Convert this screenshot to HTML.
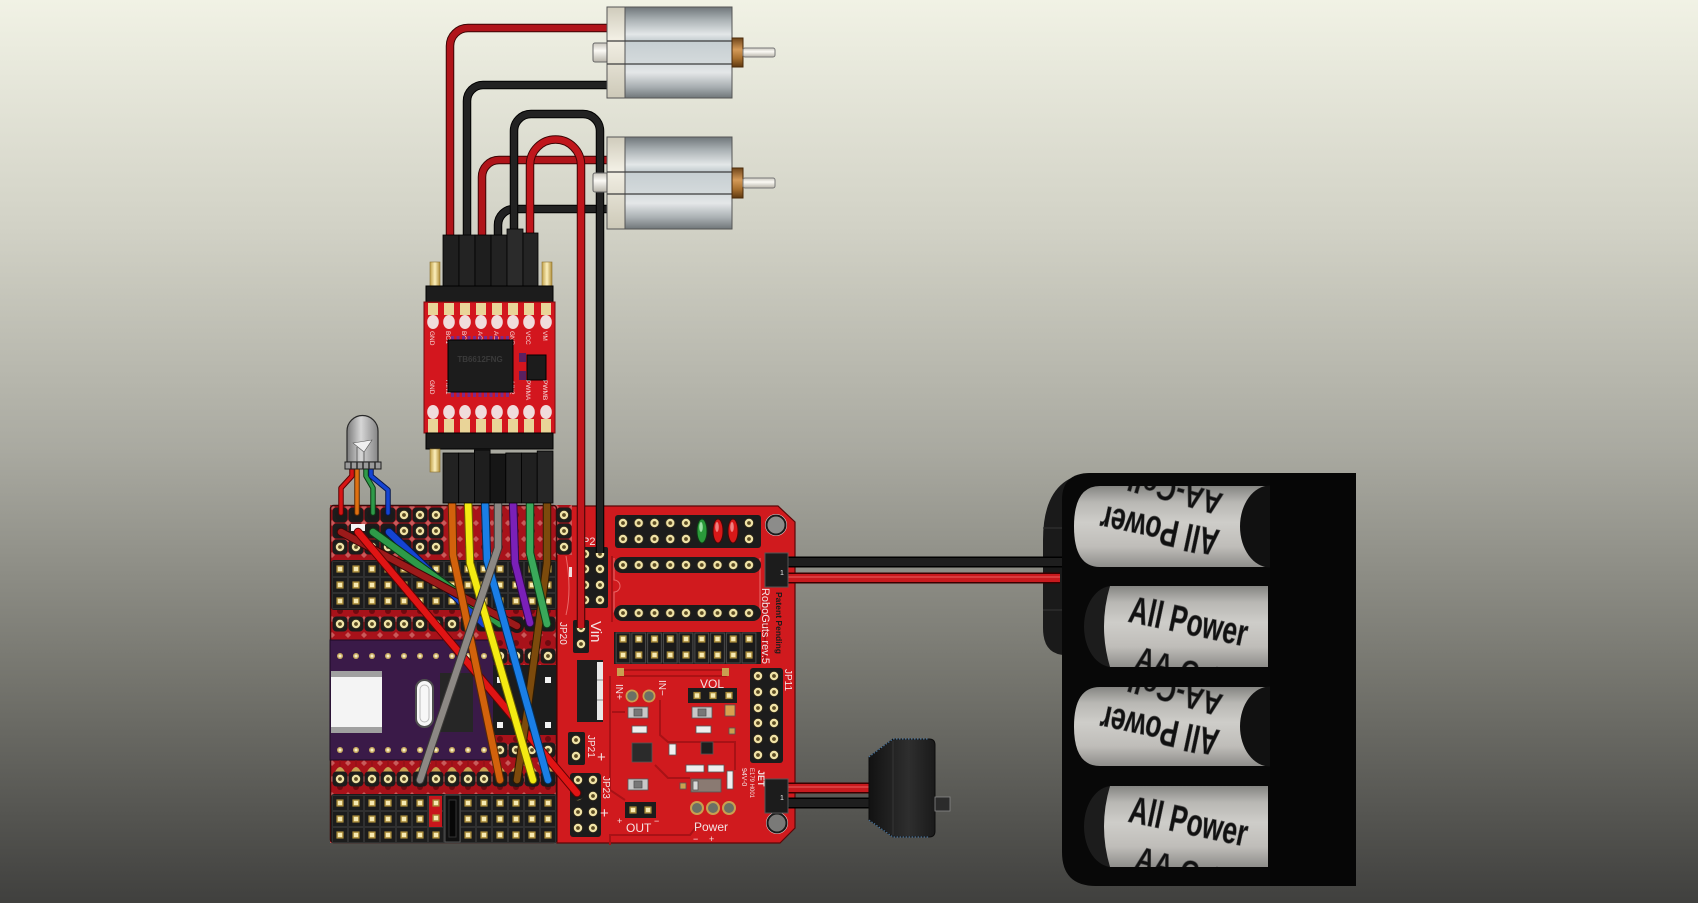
<!DOCTYPE html>
<html><head><meta charset="utf-8"><title>RoboGuts wiring</title>
<style>html,body{margin:0;padding:0;width:1698px;height:903px;overflow:hidden;background:#a8a89f}svg{display:block}</style></head>
<body>
<svg xmlns="http://www.w3.org/2000/svg" width="1698" height="903" viewBox="0 0 1698 903" font-family="Liberation Sans, sans-serif">
<defs>
<linearGradient id="bg" x1="0" y1="0" x2="0" y2="1">
<stop offset="0" stop-color="#f1f2e5"/><stop offset="0.25" stop-color="#d2d2c6"/><stop offset="0.5" stop-color="#a9a9a0"/><stop offset="0.75" stop-color="#75756e"/><stop offset="1" stop-color="#40403e"/>
</linearGradient>
<linearGradient id="motor" x1="0" y1="0" x2="0" y2="1">
<stop offset="0" stop-color="#6f767a"/><stop offset="0.14" stop-color="#aab1b4"/><stop offset="0.3" stop-color="#e3e7e8"/><stop offset="0.37" stop-color="#c6ced1"/><stop offset="0.6" stop-color="#d3d9db"/><stop offset="0.72" stop-color="#e4e7e8"/><stop offset="0.88" stop-color="#a8aeb1"/><stop offset="1" stop-color="#70777a"/>
</linearGradient>
<linearGradient id="capg" x1="0" y1="0" x2="0" y2="1"><stop offset="0" stop-color="#cfcbbb"/><stop offset=".35" stop-color="#f2efe4"/><stop offset="1" stop-color="#cdc9b8"/></linearGradient>
<linearGradient id="hub" x1="0" y1="0" x2="0" y2="1"><stop offset="0" stop-color="#6e4418"/><stop offset=".4" stop-color="#d49a58"/><stop offset=".7" stop-color="#a8702f"/><stop offset="1" stop-color="#5e3810"/></linearGradient>
<linearGradient id="shaft" x1="0" y1="0" x2="0" y2="1"><stop offset="0" stop-color="#c8c5bc"/><stop offset=".4" stop-color="#fbfaf5"/><stop offset="1" stop-color="#b8b4aa"/></linearGradient>
<linearGradient id="cell" x1="0" y1="0" x2="0" y2="1"><stop offset="0" stop-color="#858582"/><stop offset=".2" stop-color="#b8b7b3"/><stop offset=".45" stop-color="#cecdc9"/><stop offset=".75" stop-color="#bfbdb9"/><stop offset="1" stop-color="#8e8d8a"/></linearGradient>
<linearGradient id="ledg" x1="0" y1="0" x2="1" y2="0"><stop offset="0" stop-color="#7a7a7a"/><stop offset=".45" stop-color="#d6d6d6"/><stop offset="1" stop-color="#868686"/></linearGradient>
<linearGradient id="ping" x1="0" y1="0" x2="1" y2="0"><stop offset="0" stop-color="#c2a24a"/><stop offset=".5" stop-color="#fbefbc"/><stop offset="1" stop-color="#b08e38"/></linearGradient>
<linearGradient id="swg" x1="0" y1="0" x2="1" y2="0"><stop offset="0" stop-color="#121212"/><stop offset=".6" stop-color="#2e2e2e"/><stop offset="1" stop-color="#1a1a1a"/></linearGradient>

<g id="fp"><circle r="5.2" fill="#2a2418"/><circle r="4.2" fill="#efe2a6"/><circle r="1.9" fill="#5a4a22"/></g>
<g id="mp"><rect x="-3.6" y="-3.6" width="7.2" height="7.2" fill="#a88a38"/><rect x="-2.2" y="-2.2" width="4.4" height="4.4" fill="#f7eab2"/></g>

<pattern id="pF" width="16" height="16" patternUnits="userSpaceOnUse"><rect x=".5" y=".5" width="15" height="15" rx="4" fill="#1c1c1c"/><circle cx="8" cy="8" r="5.2" fill="#2a2418"/><circle cx="8" cy="8" r="4.2" fill="#efe2a6"/><circle cx="8" cy="8" r="1.9" fill="#5a4a22"/></pattern>
<pattern id="pM" width="16" height="16" patternUnits="userSpaceOnUse"><rect width="16" height="16" fill="#1c1c1c"/><rect x=".5" y=".5" width="15" height="15" fill="none" stroke="#303030"/><rect x="4.4" y="4.4" width="7.2" height="7.2" fill="#a88a38"/><rect x="5.8" y="5.8" width="4.4" height="4.4" fill="#f7eab2"/></pattern>
<pattern id="pF2" width="15.75" height="16" patternUnits="userSpaceOnUse"><circle cx="7.875" cy="8" r="5.2" fill="#2a2418"/><circle cx="7.875" cy="8" r="4.2" fill="#efe2a6"/><circle cx="7.875" cy="8" r="1.9" fill="#5a4a22"/></pattern>
<pattern id="pJ" width="15.75" height="32" patternUnits="userSpaceOnUse"><rect x="1" y="1" width="13.75" height="30" fill="#1a1a1a" stroke="#4a4a4a"/><rect x="4.3" y="3.4" width="7.2" height="7.2" fill="#a88a38"/><rect x="5.7" y="4.8" width="4.4" height="4.4" fill="#f7eab2"/><rect x="4.3" y="19.4" width="7.2" height="7.2" fill="#a88a38"/><rect x="5.7" y="20.8" width="4.4" height="4.4" fill="#f7eab2"/></pattern>
<pattern id="pD" width="16" height="16" patternUnits="userSpaceOnUse"><rect width="16" height="16" fill="#a8121a"/><path d="M0,-3 L3,0 L0,3 L-3,0Z M16,-3 L19,0 L16,3 L13,0Z M0,13 L3,16 L0,19 L-3,16Z M16,13 L19,16 L16,19 L13,16Z" fill="#c85a5a"/><circle cx="8" cy="8" r="3" fill="#6e0a10"/></pattern>
<pattern id="pS" width="16" height="16" patternUnits="userSpaceOnUse"><circle cx="8" cy="8" r="3" fill="#c9ad62"/><circle cx="8" cy="8" r="1.5" fill="#f7eec8"/></pattern>
<pattern id="pT" width="16" height="12" patternUnits="userSpaceOnUse"><path d="M3,12 Q8,2 13,12 Z" fill="#c9a050"/><path d="M8,0 V6" stroke="#8a1016" stroke-width="1"/></pattern>

<clipPath id="c1"><path d="M1100,486 H1268 V567 H1100 Q1074,567 1074,526.5 Q1074,486 1100,486 Z"/></clipPath>
<clipPath id="c2"><path d="M1110,586 H1268 V667 H1110 Q1098,626.5 1110,586 Z"/></clipPath>
<clipPath id="c3"><path d="M1100,687 H1268 V766 H1100 Q1074,766 1074,726.5 Q1074,687 1100,687 Z"/></clipPath>
<clipPath id="c4"><path d="M1110,786 H1268 V867 H1110 Q1098,826.5 1110,786 Z"/></clipPath>
</defs>

<rect width="1698" height="903" fill="url(#bg)"/>

<!-- ================= MAIN BOARD ================= -->
<path d="M557,506 H778 L795,522 V828 L780,843 H557 Z" fill="#d01a1e" stroke="#5a0808" stroke-width="1.2"/>
<g transform="translate(332,507)"><rect x="-2" y="-2" width="226" height="338" fill="url(#pD)"/></g>
<g transform="translate(556,507)"><rect x="0" y="-2" width="16" height="50" fill="url(#pD)"/></g>
<rect x="330.5" y="505.5" width="226" height="337" rx="3" fill="none" stroke="#3a0a0a" stroke-width="1.5"/>

<g transform="translate(332,507)"><rect width="112" height="48" fill="url(#pF)"/></g>
<g transform="translate(556,507)"><rect width="16" height="48" fill="url(#pF)"/></g>
<rect x="331" y="560" width="226" height="50" rx="3" fill="#1c1c1c"/>
<g transform="translate(332,561)"><rect width="224" height="48" fill="url(#pM)"/></g>
<g transform="translate(332,616)"><rect width="224" height="16" fill="url(#pF)"/></g>
<rect x="330" y="640" width="164" height="120" fill="#3a1a48" stroke="#1c0a24"/>
<g transform="translate(332,648)"><rect width="160" height="16" fill="url(#pS)"/></g>
<g transform="translate(332,742)"><rect width="160" height="16" fill="url(#pS)"/></g>
<g transform="translate(492,648)"><rect width="64" height="16" fill="url(#pF)"/></g>
<g transform="translate(492,742)"><rect width="64" height="16" fill="url(#pF)"/></g>
<rect x="493" y="665" width="63" height="70" fill="#1c1c1c"/>
<rect x="497" y="677" width="6" height="6" fill="#f2f2f2"/><rect x="545" y="677" width="6" height="6" fill="#f2f2f2"/>
<rect x="497" y="722" width="6" height="6" fill="#f2f2f2"/><rect x="545" y="722" width="6" height="6" fill="#f2f2f2"/>
<rect x="331" y="671" width="51" height="62" fill="#f4f4f4"/>
<rect x="331" y="671" width="51" height="6" fill="#a0a0a0"/><rect x="331" y="727" width="51" height="6" fill="#a0a0a0"/>
<rect x="416" y="680" width="17" height="47" rx="8.5" fill="#f7f7f7" stroke="#505050" stroke-width="2"/>
<rect x="420" y="685" width="9" height="37" rx="4.5" fill="none" stroke="#bbb" stroke-width="1"/>
<rect x="440" y="673" width="33" height="59" fill="#262626"/>
<g transform="translate(332,760)"><rect width="224" height="12" fill="url(#pT)"/></g>
<g transform="translate(332,771)"><rect width="224" height="16" fill="url(#pF)"/></g>
<rect x="331" y="794" width="226" height="49" rx="3" fill="#1c1c1c"/>
<g transform="translate(332,795)"><rect width="224" height="48" fill="url(#pM)"/></g>
<rect x="445" y="795" width="15" height="47" fill="#101010" stroke="#555"/>
<rect x="449" y="800" width="7" height="37" fill="#070707" stroke="#333"/>
<rect x="429" y="796" width="13" height="31" fill="#c8161c"/>
<use href="#mp" x="436" y="803"/><use href="#mp" x="436" y="818"/>

<!-- ===== right board ===== -->
<g fill="none" stroke="#a81216" stroke-width="2">
<path d="M612,556 V622 M610,676 V790 L625,800"/>
<path d="M660,700 V735 L668,742 H735 V770"/>
<path d="M612,712 H625 M655,765 L668,778 H690"/>
<path d="M610,845 V835 H690 L700,822"/>
<path d="M765,600 V660"/>
</g>
<g fill="none" stroke="#ea6a6a" stroke-width="1">
<path d="M614,558 V580 A6,6 0 0 1 614,592 V612 H760 V558"/>
<path d="M566,556 Q572,590 566,615"/>
</g>
<text x="582" y="545" font-size="11" fill="#f3e3e3">P2</text>
<rect x="577" y="547" width="31" height="61" rx="2" fill="#1c1c1c"/>
<use href="#fp" x="585" y="554"/><use href="#fp" x="600" y="554"/>
<use href="#fp" x="585" y="569"/><use href="#fp" x="600" y="569"/>
<use href="#fp" x="585" y="585"/><use href="#fp" x="600" y="585"/>
<use href="#fp" x="585" y="600"/><use href="#fp" x="600" y="600"/>
<rect x="569" y="567" width="3" height="10" fill="#f0dede"/>
<rect x="573" y="620" width="16" height="33" rx="2" fill="#1c1c1c"/>
<use href="#fp" x="581" y="628"/><use href="#fp" x="581" y="644"/>
<text transform="translate(560,622) rotate(90)" font-size="10" fill="#f3e3e3">JP20</text>
<text transform="translate(591,621) rotate(90)" font-size="15" fill="#f3e3e3">Vin</text>
<rect x="615" y="515" width="146" height="33" rx="3" fill="#1c1c1c"/>
<g transform="translate(615.125,515)"><rect width="78.75" height="32" fill="url(#pF2)"/></g>
<use href="#fp" x="749" y="523"/><use href="#fp" x="749" y="539"/>
<ellipse cx="702" cy="531" rx="5" ry="12" fill="#2a9a3a" stroke="#0e3a14"/><ellipse cx="701" cy="527" rx="1.8" ry="5" fill="#9ae0a4"/>
<ellipse cx="718" cy="531" rx="5" ry="12" fill="#d81818" stroke="#4a0606"/><ellipse cx="717" cy="527" rx="1.8" ry="5" fill="#f08080"/>
<ellipse cx="733" cy="531" rx="5" ry="12" fill="#d81818" stroke="#4a0606"/><ellipse cx="732" cy="527" rx="1.8" ry="5" fill="#f08080"/>
<circle cx="776" cy="525" r="11" fill="#e8dede"/><circle cx="776" cy="525" r="9.5" fill="#8c8c8a" stroke="#1a1a1a" stroke-width="2"/>
<circle cx="777" cy="823" r="11" fill="#e8dede"/><circle cx="777" cy="823" r="9.5" fill="#7a7a78" stroke="#1a1a1a" stroke-width="2"/>
<rect x="614" y="557" width="147" height="16" rx="8" fill="#1c1c1c"/>
<g transform="translate(615.125,557)"><rect width="141.75" height="16" fill="url(#pF2)"/></g>
<rect x="614" y="605" width="147" height="16" rx="8" fill="#1c1c1c"/>
<g transform="translate(615.125,605)"><rect width="141.75" height="16" fill="url(#pF2)"/></g>
<rect x="614" y="632" width="147" height="32" fill="#1c1c1c"/>
<g transform="translate(615.125,632)"><rect width="141.75" height="32" fill="url(#pJ)"/></g>
<rect x="620" y="670" width="106" height="6" fill="none" stroke="#a01010" stroke-width="1.5"/>
<rect x="617" y="668" width="7" height="8" fill="#c9a050"/><rect x="722" y="668" width="7" height="8" fill="#c9a050"/>
<rect x="750" y="668" width="33" height="95" rx="3" fill="#1c1c1c"/>
<use href="#fp" x="758" y="676"/><use href="#fp" x="774" y="676"/>
<use href="#fp" x="758" y="692"/><use href="#fp" x="774" y="692"/>
<use href="#fp" x="758" y="708"/><use href="#fp" x="774" y="708"/>
<use href="#fp" x="758" y="723"/><use href="#fp" x="774" y="723"/>
<use href="#fp" x="758" y="739"/><use href="#fp" x="774" y="739"/>
<use href="#fp" x="758" y="755"/><use href="#fp" x="774" y="755"/>
<text transform="translate(785,669) rotate(90)" font-size="10" fill="#f3e3e3">JP11</text>
<text transform="translate(762,588) rotate(90)" font-size="11" fill="#f3e3e3" textLength="76" lengthAdjust="spacingAndGlyphs">RoboGuts rev.5</text>
<text transform="translate(776,592) rotate(90)" font-size="8" font-weight="bold" fill="#1a1a1a" textLength="62" lengthAdjust="spacingAndGlyphs">Patent Pending</text>
<rect x="577" y="660" width="26" height="62" fill="#1e1e1e"/>
<rect x="597" y="662" width="6" height="58" fill="#e8e8e8"/><path d="M597,680 H603 M597,700 H603" stroke="#888"/>
<text transform="translate(616,684) rotate(90)" font-size="10" fill="#f3e3e3">IN+</text>
<text transform="translate(659,680) rotate(90)" font-size="10" fill="#f3e3e3">IN−</text>
<circle cx="632" cy="696" r="6.5" fill="#c9a050"/><circle cx="632" cy="696" r="4.8" fill="#6b7065"/>
<circle cx="649" cy="696" r="6.5" fill="#c9a050"/><circle cx="649" cy="696" r="4.8" fill="#6b7065"/>
<text x="700" y="688" font-size="12" fill="#f3e3e3">VOL</text>
<rect x="688" y="688" width="49" height="15" fill="#1c1c1c"/>
<use href="#mp" x="697" y="695.5"/><use href="#mp" x="713" y="695.5"/><use href="#mp" x="729" y="695.5"/>
<g stroke="#555" stroke-width=".8">
<rect x="628" y="707" width="20" height="11" fill="#c8c8c8"/><rect x="634" y="709" width="8" height="7" fill="#777"/>
<rect x="692" y="707" width="20" height="11" fill="#c8c8c8"/><rect x="698" y="709" width="8" height="7" fill="#777"/>
<rect x="725" y="705" width="10" height="11" fill="#d8a050"/>
<rect x="632" y="726" width="15" height="7" fill="#eeeeee"/>
<rect x="696" y="726" width="15" height="7" fill="#eeeeee"/>
<rect x="729" y="728" width="6" height="6" fill="#c9a050"/>
<rect x="632" y="743" width="20" height="19" fill="#2b2b2b"/>
<rect x="669" y="744" width="7" height="11" fill="#f0f0f0"/>
<rect x="701" y="742" width="12" height="12" fill="#1e1e1e"/>
<rect x="686" y="765" width="18" height="7" fill="#eeeeee"/>
<rect x="708" y="765" width="16" height="7" fill="#eeeeee"/>
<rect x="727" y="771" width="6" height="18" fill="#eeeeee"/>
<rect x="691" y="779" width="30" height="13" fill="#8a7a72"/><rect x="693" y="781" width="5" height="9" fill="#d8d8d8"/>
<rect x="680" y="783" width="6" height="6" fill="#c9a050"/>
<rect x="628" y="779" width="20" height="11" fill="#c8c8c8"/><rect x="634" y="781" width="8" height="7" fill="#777"/>
</g>
<rect x="625" y="802" width="31" height="16" fill="#1c1c1c"/>
<use href="#mp" x="633" y="810"/><use href="#mp" x="648" y="810"/>
<text x="626" y="832" font-size="12" fill="#f3e3e3">OUT</text>
<text x="617" y="824" font-size="9" fill="#f3e3e3">+</text><text x="654" y="824" font-size="9" fill="#f3e3e3">−</text>
<circle cx="697" cy="808" r="7" fill="#c9a050"/><circle cx="697" cy="808" r="5" fill="#6b7065"/>
<circle cx="713" cy="808" r="7" fill="#c9a050"/><circle cx="713" cy="808" r="5" fill="#6b7065"/>
<circle cx="729" cy="808" r="7" fill="#c9a050"/><circle cx="729" cy="808" r="5" fill="#6b7065"/>
<text x="694" y="831" font-size="12" fill="#f3e3e3">Power</text>
<text x="693" y="842" font-size="9" fill="#f3e3e3">−</text><text x="709" y="842" font-size="9" fill="#f3e3e3">+</text>
<rect x="568" y="732" width="17" height="33" rx="2" fill="#1c1c1c"/>
<use href="#fp" x="576" y="740"/><use href="#fp" x="576" y="756"/>
<text transform="translate(588,735) rotate(90)" font-size="10" fill="#f3e3e3">JP21</text>
<text x="597" y="762" font-size="15" fill="#f3e3e3">+</text>
<rect x="570" y="773" width="31" height="64" rx="3" fill="#1c1c1c"/>
<use href="#fp" x="578" y="780"/><use href="#fp" x="593" y="780"/>
<use href="#fp" x="578" y="796"/><use href="#fp" x="593" y="796"/>
<use href="#fp" x="578" y="812"/><use href="#fp" x="593" y="812"/>
<use href="#fp" x="578" y="828"/><use href="#fp" x="593" y="828"/>
<text transform="translate(603,776) rotate(90)" font-size="10" fill="#f3e3e3">JP23</text>
<text x="600" y="818" font-size="15" fill="#f3e3e3">+</text>
<text transform="translate(742,768) rotate(90)" font-size="7" fill="#f3e3e3">94V-0</text>
<text transform="translate(750,768) rotate(90)" font-size="6" fill="#f3e3e3">E179 H001</text>
<text transform="translate(758,770) rotate(90)" font-size="9" font-weight="bold" fill="#f3e3e3">JET</text>

<!-- ================= MOTOR WIRES ================= -->
<g fill="none" stroke-linejoin="round">
<path d="M450,240 V46 A18,18 0 0 1 468,28 H610" stroke="#3a0505" stroke-width="8.5"/>
<path d="M450,240 V46 A18,18 0 0 1 468,28 H610" stroke="#b0141a" stroke-width="6.5"/>
<path d="M467,240 V101 A16,16 0 0 1 483,85 H610" stroke="#000" stroke-width="8.5"/>
<path d="M467,240 V101 A16,16 0 0 1 483,85 H610" stroke="#222" stroke-width="6.5"/>
<path d="M482,240 V177 A17,17 0 0 1 499,160 H610" stroke="#3a0505" stroke-width="8.5"/>
<path d="M482,240 V177 A17,17 0 0 1 499,160 H610" stroke="#b0141a" stroke-width="6.5"/>
<path d="M498,240 V225 A16,16 0 0 1 514,209 H610" stroke="#000" stroke-width="8.5"/>
<path d="M498,240 V225 A16,16 0 0 1 514,209 H610" stroke="#222" stroke-width="6.5"/>
<path d="M514,240 V131 A17,17 0 0 1 531,114 H583 A17,17 0 0 1 600,131 V553" stroke="#000" stroke-width="8.5"/>
<path d="M514,240 V131 A17,17 0 0 1 531,114 H583 A17,17 0 0 1 600,131 V553" stroke="#222" stroke-width="6.5"/>
<path d="M530,240 V165 A25.5,25.5 0 0 1 581,165 V628" stroke="#3a0505" stroke-width="8.5"/>
<path d="M530,240 V165 A25.5,25.5 0 0 1 581,165 V628" stroke="#c0161c" stroke-width="6.5"/>
</g>

<!-- ================= MOTORS ================= -->
<g>
<rect x="593" y="43" width="15" height="19" rx="2" fill="url(#shaft)" stroke="#666"/>
<rect x="607" y="7" width="18" height="91" fill="url(#capg)" stroke="#555"/>
<rect x="625" y="7" width="107" height="91" fill="url(#motor)" stroke="#555"/>
<path d="M607,41 H732 M607,64 H732" stroke="#3c3c3c" stroke-width="1.2"/>
<rect x="732" y="38" width="11" height="29" fill="url(#hub)" stroke="#4a2a0a"/>
<rect x="743" y="48" width="32" height="9" rx="2" fill="url(#shaft)" stroke="#777"/>
</g>
<g>
<rect x="593" y="173" width="15" height="19" rx="2" fill="url(#shaft)" stroke="#666"/>
<rect x="607" y="137" width="18" height="92" fill="url(#capg)" stroke="#555"/>
<rect x="625" y="137" width="107" height="92" fill="url(#motor)" stroke="#555"/>
<path d="M607,172 H732 M607,194 H732" stroke="#3c3c3c" stroke-width="1.2"/>
<rect x="732" y="168" width="11" height="30" fill="url(#hub)" stroke="#4a2a0a"/>
<rect x="743" y="178" width="32" height="10" rx="2" fill="url(#shaft)" stroke="#777"/>
</g>

<!-- ================= JUMPER WIRES ON BOARD ================= -->
<g fill="#1a1a1a">
<circle cx="341" cy="532" r="6.5"/><circle cx="358" cy="532" r="6.5"/><circle cx="373" cy="532" r="6.5"/><circle cx="389" cy="532" r="6.5"/>
<circle cx="341" cy="515" r="6"/><circle cx="357" cy="515" r="6"/><circle cx="373" cy="515" r="6"/><circle cx="388" cy="515" r="6"/>
<circle cx="517" cy="626" r="7"/><circle cx="500" cy="624" r="7"/><circle cx="484" cy="624" r="7"/><circle cx="530" cy="623" r="7"/><circle cx="547" cy="624" r="7"/>
<circle cx="500" cy="780" r="7"/><circle cx="533" cy="780" r="7"/><circle cx="548" cy="780" r="7"/><circle cx="420" cy="780" r="7"/><circle cx="517" cy="780" r="7"/><circle cx="577" cy="793" r="7"/>
</g>
<rect x="351" y="524" width="14" height="7" fill="#f4f4f4"/>
<g fill="none" stroke-linecap="round" stroke-linejoin="round">
<path d="M389,532 L484,624" stroke="#061850" stroke-width="8.5"/><path d="M389,532 L484,624" stroke="#1444d2" stroke-width="6.5"/>
<path d="M373,532 L500,624" stroke="#0d3a14" stroke-width="8.5"/><path d="M373,532 L500,624" stroke="#2e9a48" stroke-width="6.5"/>
<path d="M341,532 L517,626" stroke="#3a0606" stroke-width="8.5"/><path d="M341,532 L517,626" stroke="#9c1a1a" stroke-width="6.5"/>
<path d="M358,532 L577,793" stroke="#600404" stroke-width="8.5"/><path d="M358,532 L577,793" stroke="#e01414" stroke-width="6.5"/>
<path d="M452,500 L453,555 L500,780" stroke="#5a2a04" stroke-width="8.5"/><path d="M452,500 L453,555 L500,780" stroke="#d2620c" stroke-width="6.5"/>
<path d="M547,500 L547,563 L527,713 L517,780" stroke="#2e1a02" stroke-width="8.5"/><path d="M547,500 L547,563 L527,713 L517,780" stroke="#7c4a0c" stroke-width="6.5"/>
<path d="M468,500 L470,563 L533,780" stroke="#6a6000" stroke-width="8.5"/><path d="M468,500 L470,563 L533,780" stroke="#f4ea12" stroke-width="6.5"/>
<path d="M485,500 L487,560 L548,780" stroke="#05305a" stroke-width="8.5"/><path d="M485,500 L487,560 L548,780" stroke="#1a7ee6" stroke-width="6.5"/>
<path d="M498,500 L498,548 L420,780" stroke="#3a3836" stroke-width="8.5"/><path d="M498,500 L498,548 L420,780" stroke="#8c8884" stroke-width="6.5"/>
<path d="M513,500 L515,563 L530,623" stroke="#30084a" stroke-width="8.5"/><path d="M513,500 L515,563 L530,623" stroke="#7a20b8" stroke-width="6.5"/>
<path d="M530,500 L530,553 L547,624" stroke="#0d4018" stroke-width="8.5"/><path d="M530,500 L530,553 L547,624" stroke="#3aa85a" stroke-width="6.5"/>
<path d="M352,468 V476 L341,488 V513" stroke="#5a0404" stroke-width="5.5"/><path d="M352,468 V476 L341,488 V513" stroke="#d81414" stroke-width="3.5"/>
<path d="M357,468 V513" stroke="#5a2a04" stroke-width="5.5"/><path d="M357,468 V513" stroke="#e07010" stroke-width="3.5"/>
<path d="M366,468 V476 L373,488 V513" stroke="#0d3a14" stroke-width="5.5"/><path d="M366,468 V476 L373,488 V513" stroke="#2e9a48" stroke-width="3.5"/>
<path d="M371,468 V476 L388,490 V513" stroke="#061850" stroke-width="5.5"/><path d="M371,468 V476 L388,490 V513" stroke="#1444d2" stroke-width="3.5"/>
</g>

<!-- ================= LED ================= -->
<path d="M347,462 V431 A15.5,15.5 0 0 1 378,431 V462 Z" fill="url(#ledg)" stroke="#2a2a2a" stroke-width="1.2"/>
<path d="M353,443 L372,440 L364,452 Z" fill="#f0f0f0" stroke="#555" stroke-width=".6"/>
<path d="M364,452 V462 M357,447 V462" stroke="#666" stroke-width="1"/>
<rect x="345" y="462" width="36" height="7" fill="#9a9a9a" stroke="#1e1e1e"/>
<path d="M351,462v7M357,462v7M363,462v7M369,462v7M375,462v7" stroke="#2a2a2a" stroke-width="1.5"/>

<!-- ================= DRIVER BOARD ================= -->
<rect x="430" y="262" width="10" height="26" fill="url(#ping)" stroke="#8a7030" stroke-width=".6"/>
<rect x="542" y="262" width="10" height="26" fill="url(#ping)" stroke="#8a7030" stroke-width=".6"/>
<g stroke="#000" stroke-width=".8">
<rect x="443" y="235" width="16" height="51" fill="#1f1f1f"/>
<rect x="459" y="235" width="16" height="51" fill="#232323"/>
<rect x="475" y="235" width="16" height="51" fill="#1e1e1e"/>
<rect x="491" y="235" width="16" height="51" fill="#222"/>
<rect x="507" y="229" width="16" height="57" fill="#2b2b2b"/>
<rect x="523" y="233" width="15" height="53" fill="#242424"/>
</g>
<rect x="426" y="286" width="127" height="16" fill="#1c1c1c" stroke="#000"/>
<rect x="424" y="302" width="131" height="131" fill="#d3161e" stroke="#7a0a0e"/>
<g fill="#e9d498">
<rect x="428" y="303" width="10" height="12"/><rect x="444" y="303" width="10" height="12"/><rect x="460" y="303" width="10" height="12"/><rect x="476" y="303" width="10" height="12"/><rect x="492" y="303" width="10" height="12"/><rect x="508" y="303" width="10" height="12"/><rect x="524" y="303" width="10" height="12"/><rect x="541" y="303" width="10" height="12"/>
<rect x="428" y="419" width="10" height="14"/><rect x="444" y="419" width="10" height="14"/><rect x="460" y="419" width="10" height="14"/><rect x="476" y="419" width="10" height="14"/><rect x="492" y="419" width="10" height="14"/><rect x="508" y="419" width="10" height="14"/><rect x="524" y="419" width="10" height="14"/><rect x="541" y="419" width="10" height="14"/>
</g>
<g fill="#f0dcdc">
<ellipse cx="433" cy="322" rx="5.8" ry="7"/><ellipse cx="449" cy="322" rx="5.8" ry="7"/><ellipse cx="465" cy="322" rx="5.8" ry="7"/><ellipse cx="481" cy="322" rx="5.8" ry="7"/><ellipse cx="497" cy="322" rx="5.8" ry="7"/><ellipse cx="513" cy="322" rx="5.8" ry="7"/><ellipse cx="529" cy="322" rx="5.8" ry="7"/><ellipse cx="546" cy="322" rx="5.8" ry="7"/>
<ellipse cx="433" cy="412" rx="5.8" ry="7"/><ellipse cx="449" cy="412" rx="5.8" ry="7"/><ellipse cx="465" cy="412" rx="5.8" ry="7"/><ellipse cx="481" cy="412" rx="5.8" ry="7"/><ellipse cx="497" cy="412" rx="5.8" ry="7"/><ellipse cx="513" cy="412" rx="5.8" ry="7"/><ellipse cx="529" cy="412" rx="5.8" ry="7"/><ellipse cx="546" cy="412" rx="5.8" ry="7"/>
</g>
<g font-size="6.5" fill="#f6dede">
<text transform="translate(430,331) rotate(90)">GND</text><text transform="translate(446,331) rotate(90)">BO1</text><text transform="translate(462,331) rotate(90)">BO2</text><text transform="translate(478,331) rotate(90)">AO2</text><text transform="translate(494,331) rotate(90)">AO1</text><text transform="translate(510,331) rotate(90)">GND</text><text transform="translate(526,331) rotate(90)">VCC</text><text transform="translate(543,331) rotate(90)">VM</text>
<text transform="translate(430,380) rotate(90)">GND</text><text transform="translate(446,380) rotate(90)">AIN1</text><text transform="translate(510,380) rotate(90)">AIN2</text><text transform="translate(526,380) rotate(90)">PWMA</text><text transform="translate(543,380) rotate(90)">PWMB</text>
</g>
<g fill="#7a2a8a">
<rect x="451" y="336" width="3" height="5"/><rect x="456.5" y="336" width="3" height="5"/><rect x="462" y="336" width="3" height="5"/><rect x="467.5" y="336" width="3" height="5"/><rect x="473" y="336" width="3" height="5"/><rect x="478.5" y="336" width="3" height="5"/><rect x="484" y="336" width="3" height="5"/><rect x="489.5" y="336" width="3" height="5"/><rect x="495" y="336" width="3" height="5"/><rect x="500.5" y="336" width="3" height="5"/><rect x="506" y="336" width="3" height="5"/>
<rect x="451" y="392" width="3" height="5"/><rect x="456.5" y="392" width="3" height="5"/><rect x="462" y="392" width="3" height="5"/><rect x="467.5" y="392" width="3" height="5"/><rect x="473" y="392" width="3" height="5"/><rect x="478.5" y="392" width="3" height="5"/><rect x="484" y="392" width="3" height="5"/><rect x="489.5" y="392" width="3" height="5"/><rect x="495" y="392" width="3" height="5"/><rect x="500.5" y="392" width="3" height="5"/><rect x="506" y="392" width="3" height="5"/>
</g>
<rect x="448" y="340" width="65" height="52" fill="#1c1c1c" stroke="#000"/>
<text x="480" y="362" font-size="8" font-weight="bold" fill="#3a3a3a" text-anchor="middle">TB6612FNG</text>
<rect x="519" y="353" width="7" height="9" fill="#5a2060"/><rect x="519" y="371" width="7" height="9" fill="#5a2060"/>
<rect x="527" y="355" width="19" height="25" fill="#1c1c1c" stroke="#000"/>
<rect x="426" y="433" width="127" height="16" fill="#1c1c1c" stroke="#000"/>
<rect x="430" y="449" width="10" height="23" fill="url(#ping)" stroke="#8a7030" stroke-width=".6"/>
<g stroke="#000" stroke-width=".8">
<rect x="443" y="453" width="15.7" height="50" fill="#222"/>
<rect x="458.7" y="453" width="15.7" height="50" fill="#262626"/>
<rect x="474.4" y="450" width="15.7" height="53" fill="#1e1e1e"/>
<rect x="490.1" y="454" width="15.7" height="49" fill="#161616"/>
<rect x="505.8" y="453" width="15.7" height="50" fill="#242424"/>
<rect x="521.5" y="453" width="15.7" height="50" fill="#202020"/>
<rect x="537.2" y="451" width="15.8" height="52" fill="#262626"/>
</g>

<!-- ================= BATTERY WIRES & CONNECTORS ================= -->
<path d="M1043,540 Q1043,476 1092,473 H1100 V655 H1066 Q1043,655 1043,628 Z" fill="#1a1a1a"/>
<path d="M1043,528 H1062 M1043,610 H1062" stroke="#303030" stroke-width="1.2"/>
<g fill="none">
<path d="M780,562 H1062" stroke="#000" stroke-width="11"/><path d="M780,562 H1062" stroke="#1e1e1e" stroke-width="8"/>
<path d="M780,578 H1060" stroke="#3a0000" stroke-width="11"/><path d="M780,578 H1060" stroke="#c81a1e" stroke-width="8"/><path d="M780,577 H1060" stroke="#e04848" stroke-width="1.5"/>
<path d="M780,788 H875" stroke="#3a0000" stroke-width="11"/><path d="M780,788 H875" stroke="#c81a1e" stroke-width="8"/><path d="M780,787 H875" stroke="#e04848" stroke-width="1.5"/>
<path d="M780,803 H875" stroke="#000" stroke-width="11"/><path d="M780,803 H875" stroke="#1e1e1e" stroke-width="8"/>
</g>
<rect x="765" y="553" width="23" height="34" fill="#1c1c1c" stroke="#555"/>
<rect x="765" y="779" width="23" height="34" fill="#1c1c1c" stroke="#555"/>
<text x="780" y="575" font-size="7" fill="#eee">1</text>
<text x="780" y="800" font-size="7" fill="#eee">1</text>

<!-- ================= SWITCH ================= -->
<path d="M869,757 L893,739 H929 Q935,739 935,745 V831 Q935,837 929,837 H893 L869,820 Z" fill="url(#swg)" stroke="#0c0c0c"/>
<path d="M869,757 L893,739 H929 M869,820 L893,837 H929" fill="none" stroke="#4a7aa8" stroke-width="1" stroke-dasharray="1.5 1.5"/>
<path d="M893,741 V835" stroke="#363636"/>
<rect x="935" y="797" width="15" height="14" fill="#2b2b2b" stroke="#888" stroke-width=".8"/>

<!-- ================= BATTERY PACK ================= -->
<path d="M1062,500 Q1062,473 1090,473 H1356 V886 H1096 Q1062,886 1062,852 Z" fill="#080808"/>
<path d="M1100,486 H1268 V567 H1100 Q1074,567 1074,526.5 Q1074,486 1100,486 Z" fill="url(#cell)"/>
<g clip-path="url(#c1)" font-family="Liberation Sans Narrow, Liberation Sans, sans-serif" font-weight="bold" fill="#111" stroke="#555" stroke-width=".7">
<text transform="translate(1162,518) rotate(192)" font-size="38" text-anchor="middle" textLength="120" lengthAdjust="spacingAndGlyphs">All Power</text>
<text transform="translate(1178,481) rotate(196)" font-size="32" text-anchor="middle" textLength="96" lengthAdjust="spacingAndGlyphs">AA-Cell</text>
</g>
<ellipse cx="1270" cy="526.5" rx="30" ry="41" fill="#111"/>
<ellipse cx="1112" cy="626.5" rx="28" ry="40.5" fill="#1c1c1c"/>
<path d="M1110,586 H1268 V667 H1110 Q1098,626.5 1110,586 Z" fill="url(#cell)"/>
<g clip-path="url(#c2)" font-family="Liberation Sans Narrow, Liberation Sans, sans-serif" font-weight="bold" fill="#111" stroke="#555" stroke-width=".7">
<text transform="translate(1186,634) rotate(12)" font-size="38" text-anchor="middle" textLength="120" lengthAdjust="spacingAndGlyphs">All Power</text>
<text transform="translate(1178,680) rotate(16)" font-size="32" text-anchor="middle" textLength="92" lengthAdjust="spacingAndGlyphs">AA-Cell</text>
</g>
<path d="M1100,687 H1268 V766 H1100 Q1074,766 1074,726.5 Q1074,687 1100,687 Z" fill="url(#cell)"/>
<g clip-path="url(#c3)" font-family="Liberation Sans Narrow, Liberation Sans, sans-serif" font-weight="bold" fill="#111" stroke="#555" stroke-width=".7">
<text transform="translate(1162,718) rotate(192)" font-size="38" text-anchor="middle" textLength="120" lengthAdjust="spacingAndGlyphs">All Power</text>
<text transform="translate(1178,682) rotate(196)" font-size="32" text-anchor="middle" textLength="96" lengthAdjust="spacingAndGlyphs">AA-Cell</text>
</g>
<ellipse cx="1270" cy="726.5" rx="30" ry="40" fill="#111"/>
<ellipse cx="1112" cy="826.5" rx="28" ry="40.5" fill="#1c1c1c"/>
<path d="M1110,786 H1268 V867 H1110 Q1098,826.5 1110,786 Z" fill="url(#cell)"/>
<g clip-path="url(#c4)" font-family="Liberation Sans Narrow, Liberation Sans, sans-serif" font-weight="bold" fill="#111" stroke="#555" stroke-width=".7">
<text transform="translate(1186,834) rotate(12)" font-size="38" text-anchor="middle" textLength="120" lengthAdjust="spacingAndGlyphs">All Power</text>
<text transform="translate(1178,880) rotate(16)" font-size="32" text-anchor="middle" textLength="92" lengthAdjust="spacingAndGlyphs">AA-Cell</text>
</g>
<rect x="1270" y="473" width="86" height="413" fill="#060606"/>
</svg>
</body></html>
